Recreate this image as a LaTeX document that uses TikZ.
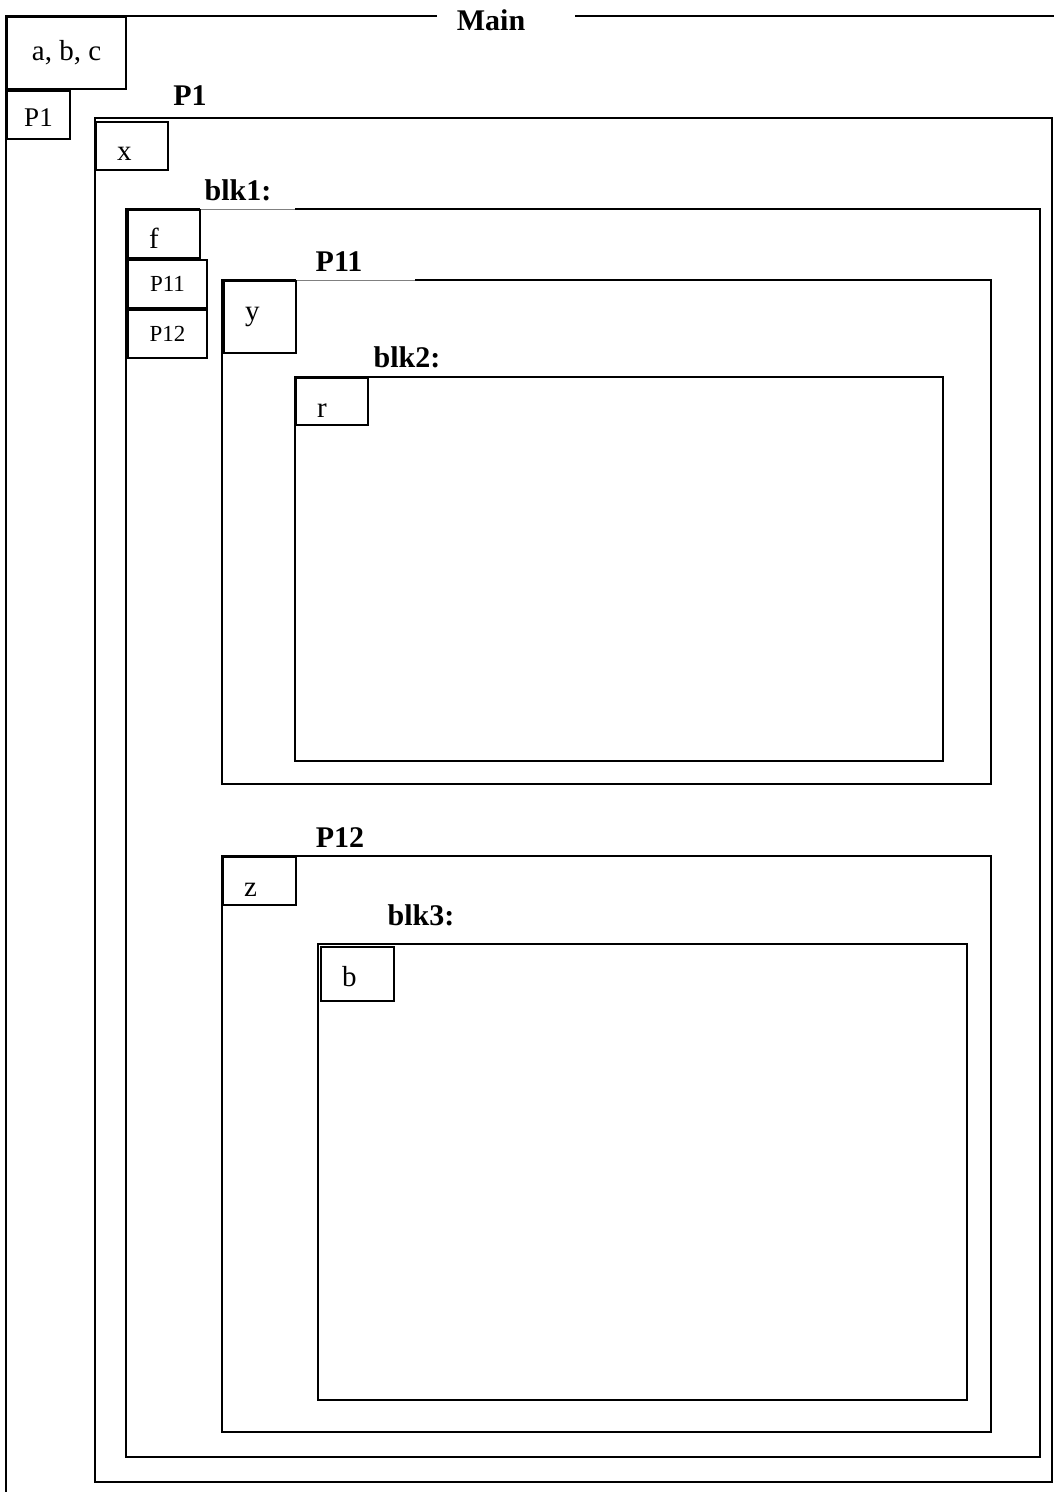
\documentclass[tikz,border=0pt]{standalone}
\usepackage{fontspec}
\setmainfont{Liberation Serif}
\usepackage{tikz}
\usetikzlibrary{positioning}
\tikzset{
  frame/.style={draw=black,line width=1.1pt},
  cell/.style={draw=black,line width=1pt,anchor=north west,inner sep=0pt,font=\fontsize{14.5}{17}\selectfont},
  lcell/.style={cell,align=left,inner xsep=10.5pt,text height=19.5pt,text depth=4.5pt},
  smallcell/.style={cell,font=\fontsize{11.5}{14}\selectfont},
  title/.style={font=\fontsize{15}{18}\selectfont\bfseries,inner sep=0pt},
  gap/.style={draw=white,line width=1.6pt},
  hair/.style={draw=gray,line width=0.4pt}
}
\begin{document}
\begin{tikzpicture}[x=0.5pt,y=-0.5pt]
  \useasboundingbox (0,0) rectangle (1054,1492);
  % main
  \draw[frame] (437,16) -- (6,16) -- (6,1492);
  \draw[frame] (575,16) -- (1054,16);
  \node[title] (maint) at (491,20) {Main};
  \node[cell, minimum width=59.5pt, minimum height=36pt] (abc) at (6,16) {a, b, c};
  \node[cell, minimum width=31.5pt, text height=18pt, text depth=6pt, font=\fontsize{13.5}{16}\selectfont] (p1cell) at (abc.south west) {P1};
  % P1
  \node[title] (p1t) at (190,96) {P1};
  \draw[frame] (95,118) rectangle (1052,1482);
  \node[lcell, text width=15pt] (xcell) at (95,121) {x};
  % blk1
  \node[title] (blk1t) at (238,190) {blk1:};
  \draw[frame] (126,209) rectangle (1040,1457);
  \draw[gap] (200,209) -- (295,209);
  \draw[hair] (200,209) -- (295,209);
  \node[lcell, text width=15pt] (fcell) at (127,209) {f};
  \node[smallcell, minimum width=39.5pt, minimum height=24pt] (p11cell) at (fcell.south west) {P11};
  \node[smallcell, minimum width=39.5pt, minimum height=24pt] (p12cell) at (p11cell.south west) {P12};
  % P11
  \node[title] (p11t) at (339,262) {P11};
  \draw[frame] (222,280) rectangle (991,784);
  \draw[gap] (296,280) -- (415,280);
  \draw[hair] (296,280) -- (415,280);
  \node[lcell, text width=15pt, text height=20pt, text depth=16pt] (ycell) at (223,280) {y};
  % blk2
  \node[title] (blk2t) at (407,357) {blk2:};
  \draw[frame] (295,377) rectangle (943,761);
  \node[lcell, text width=15pt, text depth=4pt] (rcell) at (295,377) {r};
  % P12
  \node[title] (p12t) at (340,838) {P12};
  \draw[frame] (222,856) rectangle (991,1432);
  \node[lcell, text width=15.5pt] (zcell) at (222,856) {z};
  % blk3
  \node[title] (blk3t) at (421,915) {blk3:};
  \draw[frame] (318,944) rectangle (967,1400);
  \node[lcell, text width=15.5pt, text depth=7.5pt] (bcell) at (320,946) {b};
\end{tikzpicture}
\end{document}
